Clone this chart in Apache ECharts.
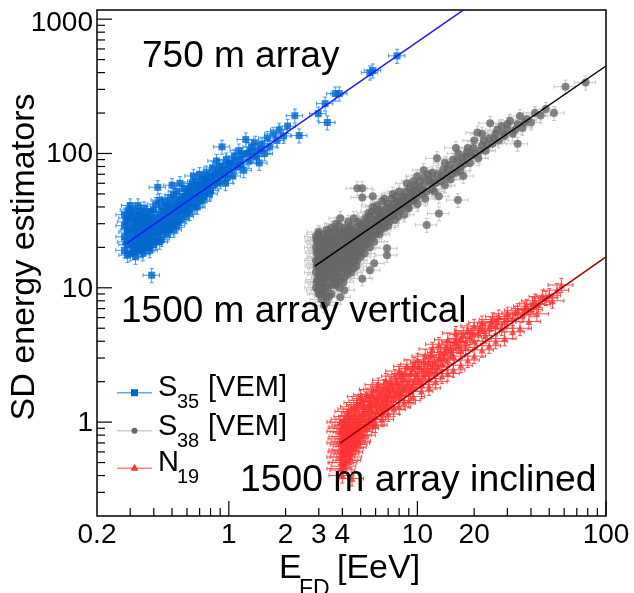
<!DOCTYPE html>
<html><head><meta charset="utf-8">
<script src="https://cdn.jsdelivr.net/npm/echarts@6/dist/echarts.min.js"></script>
<style>html,body{margin:0;padding:0;background:#fff}#c{width:634px;height:593px}</style>
</head><body><div id="c"></div>
<script>
// ---- data (E_FD [EeV], estimator) ----
const s35 = [
[0.28,19],[0.28,24],[0.28,29],[0.28,35],[0.29,21],[0.29,26],[0.29,33],[0.29,17.5],
[0.30,18],[0.30,23],[0.30,28],[0.30,36],[0.30,41],[0.31,20],[0.31,25],[0.31,31],
[0.32,17],[0.32,22],[0.32,27],[0.32,34],[0.33,19],[0.33,24],[0.33,30],[0.33,41],
[0.34,21],[0.34,26],[0.34,37],[0.35,18],[0.35,23],[0.35,29],[0.35,33],[0.36,20],
[0.36,25],[0.36,31],[0.37,22],[0.37,27],[0.37,36],[0.38,19],[0.38,24],[0.38,30],
[0.39,12.4],[0.39,26],[0.39,33],[0.40,21],[0.40,28],[0.40,38],
[0.42,24],[0.42,31],[0.42,56],[0.43,27],[0.43,35],[0.44,23],[0.44,29],[0.44,40],
[0.45,26],[0.45,33],[0.46,30],[0.46,37],[0.46,44],[0.47,25],[0.47,34],[0.48,28],
[0.48,39],[0.49,32],[0.49,47],[0.50,30],[0.50,36],[0.50,42],[0.50,58],[0.51,27],[0.52,34],
[0.52,40],[0.53,45],[0.53,52],[0.54,31],[0.55,38],[0.55,43],[0.55,60],[0.56,36],[0.57,48],
[0.58,41],[0.58,55],[0.59,34],[0.60,44],[0.60,50],
[0.61,38],[0.62,47],[0.63,57],[0.64,42],[0.65,52],[0.65,68],[0.66,46],[0.67,62],[0.68,40],
[0.69,55],[0.70,49],[0.70,70],[0.72,58],[0.73,45],[0.74,64],[0.75,52],[0.76,72],
[0.78,60],[0.79,50],[0.80,68],[0.82,78],[0.83,58],[0.85,66],[0.86,88],[0.88,72],
[0.90,62],[0.92,112],[0.93,80],[0.95,70],[0.96,60],[0.97,90],[0.99,76],
[1.02,84],[1.05,68],[1.07,96],[1.10,80],[1.13,105],[1.16,90],[1.20,75],[1.23,127],
[1.25,100],[1.28,88],[1.32,112],[1.35,96],[1.38,120],[1.42,105],[1.45,85],[1.50,118],
[1.55,100],[1.60,130],[1.65,112],[1.72,140],[1.80,125],[1.85,150],[1.95,135],[2.05,160],
[2.24,191],[2.36,136],[2.98,198],[3.24,235],[3.33,170],[3.67,279],[3.85,279],[5.6,400],[5.8,414],[7.8,533],
[0.285,22],[0.285,31],[0.295,27],[0.295,38],[0.305,21],[0.305,33],[0.315,18.5],[0.315,28],
[0.315,38],[0.325,20],[0.325,25],[0.325,31],[0.335,22],[0.335,28],[0.335,35],[0.345,19],
[0.345,24],[0.345,31],[0.355,21],[0.355,27],[0.355,39],[0.365,23],[0.365,29],[0.365,34],
[0.375,20],[0.375,25],[0.375,32],[0.385,22],[0.385,28],[0.385,37],[0.395,23],[0.395,30],
[0.41,22],[0.41,26],[0.41,33],[0.41,42],[0.43,22],[0.43,30],[0.43,45],[0.45,29],[0.45,37],
[0.47,28],[0.47,31],[0.47,41],[0.49,27],[0.49,36],[0.51,31],[0.51,38],[0.51,49],[0.53,29],
[0.53,36],[0.54,41],[0.56,32],[0.56,45],[0.57,38],[0.59,39],[0.59,47],[0.61,43],[0.61,53],
[0.62,36],[0.63,49],[0.64,60],[0.66,40],[0.67,50],[0.68,58],[0.70,44],[0.71,53],[0.72,64],
[0.74,48],[0.75,59],[0.77,55],[0.77,66],[0.80,53],[0.81,62],[0.84,70],[0.87,60],[0.89,80],
[0.91,70],[0.94,76],[0.98,66],[1.00,84],[1.04,76],[1.08,88],[1.15,82],[1.18,98],[1.30,104],
[1.40,95],[1.48,108]
];
const s38 = [
[2.9,10],[2.9,13],[2.9,16],[2.9,20],[2.9,24],[2.95,11.5],[2.95,15],[2.95,18],[2.95,22],
[3.0,9],[3.0,12.5],[3.0,14],[3.0,17],[3.0,21],[3.0,26],[3.05,10.5],[3.05,13],[3.05,19],
[3.1,8.2],[3.1,11],[3.1,15],[3.1,18],[3.1,23],[3.15,9.5],[3.15,12],[3.15,16.5],[3.15,20],
[3.2,7.4],[3.2,13.5],[3.2,17.5],[3.2,25],[3.25,10],[3.25,15],[3.25,21],[3.3,7.8],[3.3,12],
[3.3,18],[3.3,27],[3.4,8.6],[3.4,11],[3.4,14],[3.4,16],[3.4,19.5],[3.4,23],[3.5,9],[3.5,13],
[3.5,17],[3.5,21],[3.5,28],
[3.6,12],[3.6,15.5],[3.6,19],[3.6,24],[3.7,10.5],[3.7,14],[3.7,18],[3.7,22],[3.7,30],
[3.8,13],[3.8,16],[3.8,20.5],[3.8,26],[3.9,8.5],[3.9,11.5],[3.9,17],[3.9,23],[3.9,33],
[4.0,14],[4.0,19],[4.0,25],[4.1,9.6],[4.1,12],[4.1,16],[4.1,21],[4.1,28],[4.2,15],[4.2,18],
[4.2,24],[4.3,13.5],[4.3,20],[4.3,31],[4.4,17],[4.4,22],[4.4,27],[4.5,15],[4.5,19],[4.5,25],
[4.6,14],[4.6,21],[4.6,33],[4.7,18],[4.7,23],[4.8,16],[4.8,20],[4.8,28],[4.8,55],[4.9,19],
[4.9,25],[5.0,17],[5.0,22],[5.0,30],[5.1,11.7],[5.1,55],[5.1,47],[5.6,13.5],[5.9,15.2],
[5.2,20],[5.2,26],[5.3,23],[5.3,33],[5.4,21],[5.4,28],[5.5,25],[5.5,36],[5.7,23],[5.7,30],
[5.8,27],[5.8,40],[5.8,48],[6.0,25],[6.0,32],[6.2,29],[6.2,38],[6.4,27],[6.4,34],[6.5,44],
[6.6,31],[6.8,37],[6.9,19.7],[6.9,17.5],[7.0,29],[7.0,42],[7.2,34],[7.4,39],[7.4,50],
[7.6,32],[7.8,44],[8.0,37],[8.0,52],[8.3,41],[8.5,35],[8.5,47],[8.8,44],[8.8,60],[9.0,39],
[9.2,50],[9.5,45],[9.5,62],[9.8,54],[10,42],[10,68],
[10.5,50],[10.8,58],[10.8,75],[11,46],[11.2,29.4],[11.5,63],[12,54],[12,72],[12.5,60],
[12.7,92],[13,48],[13,35.7],[13.5,68],[14,58],[14,85],[14.5,75],[15,64],[15.5,90],[16,72],
[16,110],[16.4,45],[16.5,100],[17,80],[17.5,68],[18,95],[18.5,110],[19,85],[20,100],
[20,125],[20.8,143],[21,92],[22,115],[22,140],[23,105],[24,130],[24.3,168],[25,118],
[26,140],[27,125],[28,160],[29,135],[30,150],[31,175],[32,140],[34,165],[34,118],[35,190],
[36,155],[38,180],[40,170],[42,200],[45,192],[48,214],[53,200],[61,314],[78,337],
[2.92,11],[2.92,14.5],[2.92,18.5],[2.92,22.5],[2.97,9.6],[2.97,16.5],[2.97,25],[3.02,11],
[3.02,15.5],[3.02,19.5],[3.02,23.5],[3.07,9],[3.07,14],[3.07,17],[3.07,21.5],[3.12,10],
[3.12,13],[3.12,20.5],[3.17,11],[3.17,14.5],[3.17,18.5],[3.17,23],[3.22,9],[3.22,12],
[3.22,16],[3.22,20],[3.28,8.6],[3.28,13],[3.28,16.5],[3.28,23],[3.35,10],[3.35,13],[3.35,17],
[3.35,21],[3.35,25],[3.45,12],[3.45,15],[3.45,18],[3.45,26],[3.55,10.5],[3.55,14.5],[3.55,19],
[3.55,23],[3.65,11],[3.65,13.5],[3.65,17],[3.65,21],[3.65,27],[3.75,12],[3.75,16],[3.75,20],
[3.75,24],[3.85,10],[3.85,14.5],[3.85,18.5],[3.85,29],[3.95,13],[3.95,15.5],[3.95,20],[3.95,26],
[4.05,11],[4.05,17],[4.05,23],[4.15,14],[4.15,19],[4.15,25],[4.25,12.5],[4.25,16.5],[4.25,21],
[4.25,27],[4.35,15],[4.35,19],[4.35,24],[4.45,13],[4.45,21],[4.45,29],[4.55,17],[4.55,23],
[4.65,16],[4.65,19],[4.65,26],[4.75,14.5],[4.75,21],[4.85,18],[4.85,24],[4.85,31],[4.95,21],
[4.95,27],[5.05,19],[5.05,24],[5.15,22],[5.15,29],[5.25,18],[5.25,24],[5.35,26],[5.35,30],
[5.45,23],[5.45,32],[5.6,20],[5.6,27],[5.6,34],[5.75,25],[5.75,37],[5.9,22],[5.9,29],[5.9,35],
[6.1,27],[6.1,31],[6.1,41],[6.3,25],[6.3,33],[6.3,36],[6.5,30],[6.5,38],[6.7,28],[6.7,34],
[6.7,46],[6.9,33],[6.9,40],[7.1,31],[7.1,37],[7.3,36],[7.3,46],[7.5,35],[7.5,42],[7.7,38],
[7.7,48],[7.9,34],[7.9,41],[8.1,44],[8.2,39],[8.4,48],[8.6,42],[8.7,52],[8.9,40],[9.0,47],
[9.1,55],[9.3,44],[9.4,52],[9.6,49],[9.7,58],[9.9,47],[10.2,55],[10.3,62],[10.6,53],[10.9,66],
[11.2,52],[11.4,70],[11.8,60],[12.2,64],[12.3,52],[12.8,70],[13.2,62],[13.7,76],[14.2,66],
[14.8,82],[15.2,70],[15.8,78],[16.3,88],[16.8,74],[17.3,92],[17.8,84],[18.3,102],[19.3,96],
[19.8,110],[21.5,105],[22.5,125],[23.5,115],[25.5,130],[26.5,150],[28.5,140],[30,165],
[33,150],[37,170]
];
const n19 = [
[3.9,0.45],[3.9,0.55],[3.9,0.7],[3.9,0.85],[3.9,1.0],[4.0,0.4],[4.0,0.5],[4.0,0.62],
[4.0,0.78],[4.0,0.92],[4.1,0.47],[4.1,0.58],[4.1,0.72],[4.1,1.05],[4.2,0.52],[4.2,0.66],
[4.2,0.84],[4.3,0.6],[4.3,0.75],[4.3,0.95],[4.3,1.2],[4.4,0.55],[4.4,0.7],[4.4,0.88],
[4.5,0.64],[4.5,0.8],[4.5,1.1],[4.5,0.38],[4.6,0.73],[4.6,0.9],[4.6,1.3],[4.7,0.68],
[4.7,0.85],[4.7,1.0],[4.8,0.78],[4.8,0.95],[4.8,1.4],[4.9,0.72],[4.9,1.12],[5.0,0.85],
[5.0,1.0],[5.0,1.55],
[5.2,0.8],[5.2,1.05],[5.2,1.3],[5.4,0.9],[5.4,1.15],[5.4,1.6],[5.6,1.0],[5.6,1.25],
[5.6,1.45],[5.8,0.95],[5.8,1.2],[5.8,1.75],[6.0,1.1],[6.0,1.35],[6.2,1.25],[6.2,1.55],
[6.2,1.9],[6.5,1.15],[6.5,1.4],[6.5,1.7],[6.8,1.3],[6.8,1.6],[6.8,2.05],[7.0,1.5],
[7.0,1.8],[7.3,1.4],[7.3,1.95],[7.6,1.6],[7.6,2.2],[8.0,1.55],[8.0,1.85],[8.0,2.4],
[8.4,1.75],[8.4,2.1],[8.8,1.9],[8.8,2.6],[9.2,1.7],[9.2,2.3],[9.6,2.0],[9.6,2.7],
[10,2.2],[10,2.9],
[10.5,1.9],[10.5,2.5],[11,2.3],[11,3.1],[11.5,2.1],[11.5,2.8],[12,2.6],[12,3.5],
[12.5,2.4],[13,3.0],[13,3.8],[13.5,2.7],[14,3.3],[14.5,2.9],[14.5,4.1],[15,3.5],
[15.5,3.1],[16,3.9],[16,4.6],[17,3.4],[17,4.2],[18,3.9],[18.5,4.8],[19,4.3],[20,4.0],[20,5.2],
[21,4.6],[22,5.5],[23,4.4],[24,5.0],[25,5.8],[26,5.2],[27,6.1],[28,5.0],[29,5.6],
[30,6.4],[32,5.9],[34,6.8],[36,6.3],[38,7.3],[40,6.9],[42,8.0],[44,7.5],[46,8.6],
[50,8.8],[55,9.6],[58,10.5],
[3.95,0.5],[3.95,0.6],[3.95,0.75],[3.95,0.9],[4.05,0.44],[4.05,0.55],[4.05,0.68],[4.05,0.85],
[4.05,1.0],[4.15,0.5],[4.15,0.62],[4.15,0.78],[4.15,0.95],[4.25,0.58],[4.25,0.7],[4.25,0.9],
[4.25,1.1],[4.35,0.52],[4.35,0.66],[4.35,0.82],[4.35,1.05],[4.45,0.6],[4.45,0.75],[4.45,0.95],
[4.45,1.25],[4.55,0.7],[4.55,0.85],[4.55,1.0],[4.65,0.65],[4.65,0.8],[4.65,1.15],[4.75,0.75],
[4.75,0.92],[4.75,1.25],[4.85,0.7],[4.85,0.88],[4.85,1.05],[4.95,0.8],[4.95,0.95],[4.95,1.35],
[5.1,0.9],[5.1,1.15],[5.1,1.45],[5.3,0.95],[5.3,1.2],[5.3,1.5],[5.5,1.05],[5.5,1.35],[5.7,1.1],
[5.7,1.35],[5.7,1.6],[5.9,1.05],[5.9,1.5],[6.1,1.2],[6.1,1.45],[6.1,1.75],[6.35,1.3],[6.35,1.6],
[6.65,1.25],[6.65,1.5],[6.65,1.85],[6.9,1.4],[6.9,1.7],[7.15,1.6],[7.15,1.9],[7.45,1.5],
[7.45,1.75],[7.8,1.7],[7.8,2.0],[8.2,1.65],[8.2,2.25],[8.6,1.8],[8.6,2.3],[9.0,2.0],[9.4,1.85],
[9.4,2.5],[9.8,2.3],[10.2,2.05],[10.2,2.6],[10.8,2.2],[10.8,2.8],[11.3,2.5],[11.8,2.35],
[11.8,3.2],[12.3,2.8],[12.8,2.6],[13.3,3.3],[13.8,3.0],[14.3,3.6],[15.2,3.3],[15.8,4.0],
[16.5,3.7],[17.5,4.5],[18,3.6],[19.5,4.6],[21.5,5.0],[22.5,4.8],[24.5,5.4],[26.5,5.6],
[30,5.9],[33,6.5],[37,7.0],[41,7.6],[48,8.4],
[6.0,0.95],[6.5,1.05],[7.0,1.15],[7.5,1.25],[8.0,1.3],[8.5,1.4],[9.0,1.45],[9.5,1.55],
[10.5,1.7],[11.5,1.8],[12.5,2.0],[13.5,2.2],[14.5,2.3],[15.5,2.45],[17,2.65],[18.5,2.9],
[20,3.1],[22,3.45],[24,3.7],[26,4.0],[29,4.2],[32,4.7],[35,5.0],[39,5.6],[43,6.4],[52,8.0]
];
// fitted power-law lines (two end points each)
const fit35 = [[0.287,21.4],[20,1330]];
const fit38 = [[2.86,14.5],[100,448]];
const fit19 = [[3.88,0.695],[100,17.0]];
// relative uncertainties used for error bars [x, y]
const err35 = [0.10,0.12], err38 = [0.13,0.12], err19 = [0.15,0.12];
// axes
const X_MIN = 0.2, X_MAX = 100, Y_MIN = 0.2, Y_MAX = 1170;
const xMajorTicks = [1,10,100];
const xMinorTicks = [0.3,0.4,0.5,0.6,0.7,0.8,0.9,2,3,4,5,6,7,8,9,20,30,40,50,60,70,80,90];
const yMajorTicks = [1,10,100,1000];
const yMinorTicks = [0.3,0.4,0.5,0.6,0.7,0.8,0.9,2,3,4,5,6,7,8,9,20,30,40,50,60,70,80,90,200,300,400,500,600,700,800,900];
const xTickLabels = [0.2,1,2,3,4,10,20,100];
const yTickLabels = [1,10,100,1000];

const FONT = '"Liberation Sans", Arial, Helvetica, sans-serif';
const chart = echarts.init(document.getElementById('c'), null, {renderer:'canvas'});

function errRender(e, color){
  return function(params, api){
    const x = api.value(0), y = api.value(1);
    const c = api.coord([x,y]);
    const l = api.coord([x*(1-e[0]), y])[0], r = api.coord([x*(1+e[0]), y])[0];
    const t = api.coord([x, y*(1+e[1])])[1], b = api.coord([x, y*(1-e[1])])[1];
    const cap = 2, st = {stroke: color, lineWidth: 1};
    return {type:'group', silent:true, children:[
      {type:'line', shape:{x1:l,y1:c[1],x2:r,y2:c[1]}, style:st},
      {type:'line', shape:{x1:c[0],y1:t,x2:c[0],y2:b}, style:st},
      {type:'line', shape:{x1:l,y1:c[1]-cap,x2:l,y2:c[1]+cap}, style:st},
      {type:'line', shape:{x1:r,y1:c[1]-cap,x2:r,y2:c[1]+cap}, style:st},
      {type:'line', shape:{x1:c[0]-cap,y1:t,x2:c[0]+cap,y2:t}, style:st},
      {type:'line', shape:{x1:c[0]-cap,y1:b,x2:c[0]+cap,y2:b}, style:st}
    ]};
  };
}
function xTickRender(len){
  return function(params, api){
    const p = api.coord([api.value(0), Y_MIN]);
    return {type:'line', silent:true, shape:{x1:p[0],y1:p[1],x2:p[0],y2:p[1]-len}, style:{stroke:'#000', lineWidth:1.2}};
  };
}
function yTickRender(len){
  return function(params, api){
    const p = api.coord([X_MIN, api.value(1)]);
    return {type:'line', silent:true, shape:{x1:p[0],y1:p[1],x2:p[0]+len,y2:p[1]}, style:{stroke:'#000', lineWidth:1.2}};
  };
}
const series = [
  {type:'custom', name:'err35', data:s35, renderItem:errRender(err35,'#3399ff'), clip:true, z:2},
  {type:'scatter', name:'S35', data:s35, symbol:'rect', symbolSize:7, itemStyle:{color:'#0066cc'}, z:3, silent:true},
  {type:'custom', name:'err38', data:s38, renderItem:errRender(err38,'#c8c8c8'), clip:true, z:2},
  {type:'scatter', name:'S38', data:s38, symbol:'circle', symbolSize:8, itemStyle:{color:'#666666'}, z:3, silent:true},
  {type:'custom', name:'err19', data:n19, renderItem:errRender(err19,'#ff4444'), clip:true, z:2},
  {type:'scatter', name:'N19', data:n19, symbol:'triangle', symbolSize:7, itemStyle:{color:'#ff3333'}, z:3, silent:true},
  {type:'line', data:fit35, showSymbol:false, lineStyle:{color:'#1a1aff', width:1.5}, clip:true, z:5, silent:true},
  {type:'line', data:fit38, showSymbol:false, lineStyle:{color:'#000000', width:1.5}, clip:true, z:5, silent:true},
  {type:'line', data:fit19, showSymbol:false, lineStyle:{color:'#a00000', width:1.5}, clip:true, z:5, silent:true},
  {type:'custom', data:xMajorTicks.map(v=>[v,Y_MIN]), renderItem:xTickRender(15), z:6},
  {type:'custom', data:xMinorTicks.map(v=>[v,Y_MIN]), renderItem:xTickRender(8), z:6},
  {type:'custom', data:yMajorTicks.map(v=>[X_MIN,v]), renderItem:yTickRender(15), z:6},
  {type:'custom', data:yMinorTicks.map(v=>[X_MIN,v]), renderItem:yTickRender(8), z:6},
  {type:'custom', data:xTickLabels.map(v=>[v,Y_MIN]), z:6, renderItem:function(params, api){
    const v = api.value(0), p = api.coord([v, Y_MIN]);
    return {type:'text', silent:true, x:p[0], y:p[1]+19, style:{text:String(v), fontSize:28, fontFamily:FONT, fill:'#000', align:'center', verticalAlign:'middle'}};
  }},
  {type:'custom', data:yTickLabels.map(v=>[X_MIN,v]), z:6, renderItem:function(params, api){
    const v = api.value(1), p = api.coord([X_MIN, v]);
    return {type:'text', silent:true, x:p[0]-4, y:Math.max(p[1]+1, 23), style:{text:String(v), fontSize:28, fontFamily:FONT, fill:'#000', align:'right', verticalAlign:'middle'}};
  }}
];

function txt(x, y, s, size, extra){
  return Object.assign({type:'text', x:x, y:y, silent:true, z:10, style:{text:s, fontSize:size, fontFamily:FONT, fill:'#000', align:'left', verticalAlign:'middle'}}, extra||{});
}
const legendRows = [
  {y:392.7, ty:388, main:'S', sub:'35', rest:'[VEM]', line:'#5aa9ff', sym:'rect', col:'#0066cc'},
  {y:430.7, ty:426.5, main:'S', sub:'38', rest:'[VEM]', line:'#cccccc', sym:'circle', col:'#666666'},
  {y:468.3, ty:463, main:'N', sub:'19', rest:'', line:'#ff8080', sym:'triangle', col:'#ff3333'}
];
const graphics = [];
legendRows.forEach(r=>{
  graphics.push({type:'line', silent:true, z:10, shape:{x1:117,y1:r.y,x2:152,y2:r.y}, style:{stroke:r.line, lineWidth:1.5}});
  if (r.sym==='rect') graphics.push({type:'rect', silent:true, z:11, shape:{x:131,y:r.y-3.5,width:7,height:7}, style:{fill:r.col}});
  else if (r.sym==='circle') graphics.push({type:'circle', silent:true, z:11, shape:{cx:134.5,cy:r.y,r:3}, style:{fill:r.col}});
  else graphics.push({type:'polygon', silent:true, z:11, shape:{points:[[134.5,r.y-4.5],[138.5,r.y+2.5],[130.5,r.y+2.5]]}, style:{fill:r.col}});
  graphics.push(txt(158, r.ty, r.main, 29));
  graphics.push(txt(177, r.ty+14.5, r.sub, 20));
  if (r.rest) graphics.push(txt(208, r.ty, r.rest, 29));
});
graphics.push(txt(142, 56.7, '750 m array', 37));
graphics.push(txt(121, 311.5, '1500 m array vertical', 37));
graphics.push(txt(240, 481, '1500 m array inclined', 37.3));
// axis titles
graphics.push(txt(279, 569, 'E', 34));
graphics.push(txt(299, 590, 'FD', 23));
graphics.push(txt(337, 569, '[EeV]', 34));
graphics.push({type:'text', silent:true, z:10, x:25, y:257, rotation:Math.PI/2,
  style:{text:'SD energy estimators', fontSize:34, fontFamily:FONT, fill:'#000', align:'center', verticalAlign:'middle'}});

chart.setOption({
  animation:false,
  backgroundColor:'#fff',
  grid:{left:97, top:10, width:509, height:506, show:true, borderColor:'#000', borderWidth:1.5, backgroundColor:'transparent'},
  xAxis:{type:'log', logBase:10, min:X_MIN, max:X_MAX, axisLine:{show:false}, axisTick:{show:false}, axisLabel:{show:false}, splitLine:{show:false}},
  yAxis:{type:'log', logBase:10, min:Y_MIN, max:Y_MAX, axisLine:{show:false}, axisTick:{show:false}, axisLabel:{show:false}, splitLine:{show:false}},
  series:series,
  graphic:graphics
});
</script></body></html>
